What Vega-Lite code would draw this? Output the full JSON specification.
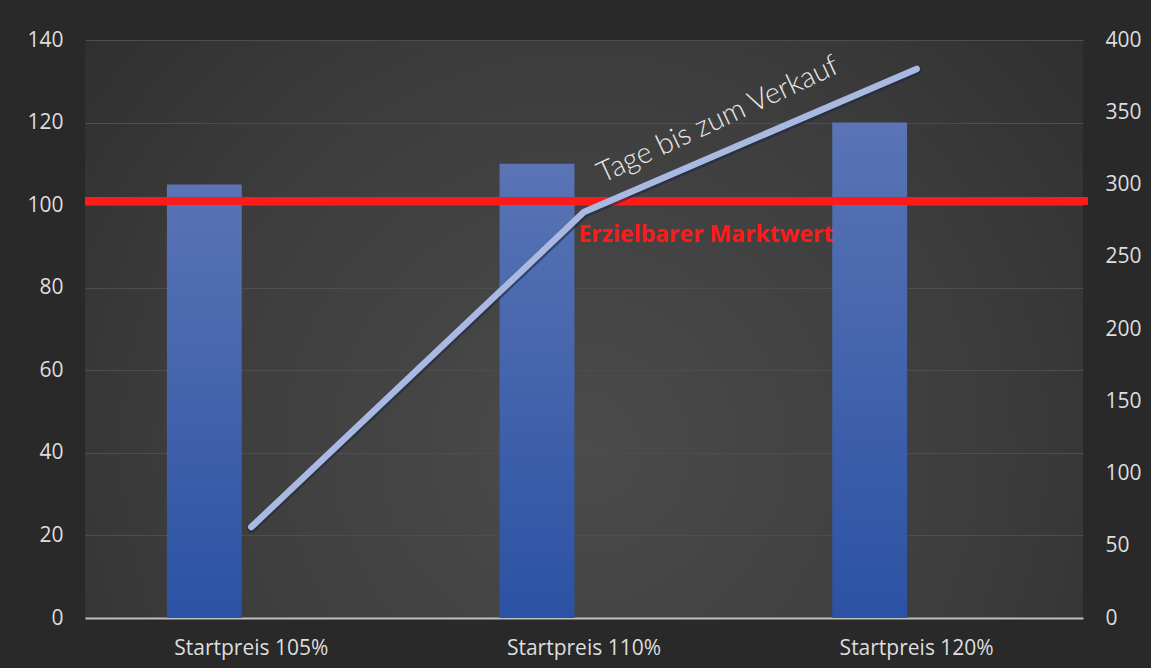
{
  "$schema": "https://vega.github.io/schema/vega-lite/v6.json",
  "width": 998,
  "height": 578,
  "autosize": {"type": "none"},
  "padding": {"left": 85, "top": 40, "right": 68, "bottom": 50},
  "background": "#292929",
  "view": {
    "stroke": null,
    "fill": {
      "gradient": "radial",
      "x1": 0.5, "y1": 0.62, "r1": 0,
      "x2": 0.5, "y2": 0.62, "r2": 0.78,
      "stops": [
        {"offset": 0, "color": "#4b4b4b"},
        {"offset": 0.5, "color": "#3d3d3d"},
        {"offset": 1, "color": "#292929"}
      ]
    }
  },
  "config": {
    "axisX": {
      "labelFont": "Open Sans",
      "labelFontSize": 21,
      "labelColor": "#dedede",
      "labelPadding": 19,
      "labelAngle": 0,
      "ticks": false,
      "domainColor": "#bfbfbf",
      "domainWidth": 2,
      "grid": false,
      "title": null
    },
    "axisY": {
      "labelFont": "Open Sans",
      "labelFontSize": 21,
      "labelColor": "#dedede",
      "labelPadding": 22,
      "ticks": false,
      "domain": false,
      "title": null
    }
  },
  "datasets": {
    "main": [
      {"kategorie": "Startpreis 105%", "preis": 105, "tage": 63},
      {"kategorie": "Startpreis 110%", "preis": 110, "tage": 281},
      {"kategorie": "Startpreis 120%", "preis": 120, "tage": 380}
    ]
  },
  "layer": [
    {
      "layer": [
        {
          "data": {"name": "main"},
          "mark": {
            "type": "bar",
            "width": {"band": 0.225},
            "xOffset": -47,
            "fill": {
              "gradient": "linear",
              "x1": 0, "y1": 0, "x2": 0, "y2": 1,
              "stops": [
                {"offset": 0, "color": "#5a74b5"},
                {"offset": 1, "color": "#2b52a4"}
              ]
            }
          },
          "encoding": {
            "x": {
              "field": "kategorie",
              "type": "nominal",
              "sort": ["Startpreis 105%", "Startpreis 110%", "Startpreis 120%"],
              "scale": {"paddingInner": 0, "paddingOuter": 0}
            },
            "y": {
              "field": "preis",
              "type": "quantitative",
              "scale": {"domain": [0, 140], "nice": false},
              "axis": {
                "orient": "left",
                "values": [0, 20, 40, 60, 80, 100, 120, 140],
                "grid": true,
                "gridColor": "#4e4e4e",
                "gridWidth": 1
              }
            }
          }
        },
        {
          "data": {"values": [{"wert": 101}]},
          "mark": {"type": "rule", "color": "#ff1a1a", "strokeWidth": 8, "xOffset": 5},
          "encoding": {
            "y": {"field": "wert", "type": "quantitative"}
          }
        },
        {
          "data": {"values": [{"kategorie": "Startpreis 110%", "wert": 92.8, "label": "Erzielbarer Marktwert"}]},
          "mark": {
            "type": "text",
            "font": "Open Sans",
            "fontWeight": 700,
            "fontSize": 23,
            "color": "#ff1a1a",
            "align": "center",
            "baseline": "middle",
            "xOffset": 122
          },
          "encoding": {
            "x": {"field": "kategorie", "type": "nominal"},
            "y": {"field": "wert", "type": "quantitative"},
            "text": {"field": "label"}
          }
        }
      ]
    },
    {
      "layer": [
        {
          "data": {"name": "main"},
          "mark": {"type": "line", "stroke": "#1c2840", "strokeWidth": 9, "strokeCap": "round", "strokeJoin": "round", "opacity": 0.6, "yOffset": 1.5},
          "encoding": {
            "x": {"field": "kategorie", "type": "nominal", "sort": ["Startpreis 105%", "Startpreis 110%", "Startpreis 120%"]},
            "y": {
              "field": "tage",
              "type": "quantitative",
              "scale": {"domain": [0, 400], "nice": false},
              "axis": {
                "orient": "right",
                "values": [0, 50, 100, 150, 200, 250, 300, 350, 400],
                "grid": false
              }
            }
          }
        },
        {
          "data": {"name": "main"},
          "mark": {"type": "line", "stroke": "#a9b9e2", "strokeWidth": 6.5, "strokeCap": "round", "strokeJoin": "round"},
          "encoding": {
            "x": {"field": "kategorie", "type": "nominal", "sort": ["Startpreis 105%", "Startpreis 110%", "Startpreis 120%"]},
            "y": {"field": "tage", "type": "quantitative"}
          }
        },
        {
          "data": {"values": [{"kategorie": "Startpreis 110%", "tage": 345, "label": "Tage bis zum Verkauf"}]},
          "mark": {
            "type": "text",
            "font": "Lato",
            "fontWeight": 300,
            "fontSize": 29,
            "color": "#e8e8e8",
            "align": "center",
            "baseline": "middle",
            "angle": -25,
            "xOffset": 134
          },
          "encoding": {
            "x": {"field": "kategorie", "type": "nominal"},
            "y": {"field": "tage", "type": "quantitative"},
            "text": {"field": "label"}
          }
        }
      ]
    }
  ],
  "resolve": {"scale": {"y": "independent"}}
}
